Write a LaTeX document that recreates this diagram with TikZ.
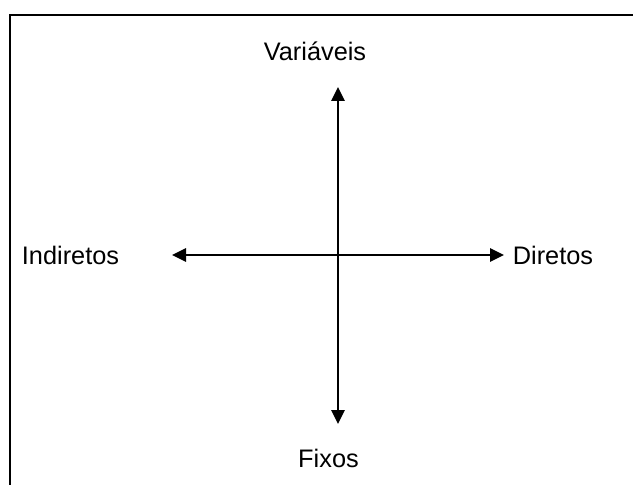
\documentclass[tikz,border=0pt]{standalone}
\usepackage{fontspec}
\setmainfont{Liberation Sans}
\usetikzlibrary{arrows.meta}

\begin{document}
\begin{tikzpicture}[x=0.75pt, y=-0.75pt,
  lbl/.style={anchor=base, inner sep=0pt, font=\fontsize{19}{23}\selectfont},
  axis/.style={line width=1.6pt, {Triangle[length=10.5pt,width=10pt]}-{Triangle[length=10.5pt,width=10pt]}}]

\useasboundingbox (0,0) rectangle (633,485);

% frame
\draw[line width=1.5pt] (10,485) -- (10,15) -- (633,15);

\node[lbl] (var) at (315,61) {Variáveis};
\node[lbl] (fix) at (328.5,467) {Fixos};
\node[lbl] (ind) at (70.5,265) {Indiretos};
\node[lbl] (dir) at (553,265) {Diretos};

\coordinate (up) at (338,87);
\coordinate (down) at (338,424);
\coordinate (left) at (172,255);
\coordinate (right) at (504,255);

\draw[axis] (down) -- (up);
\draw[axis] (left) -- (right);

\end{tikzpicture}
\end{document}
